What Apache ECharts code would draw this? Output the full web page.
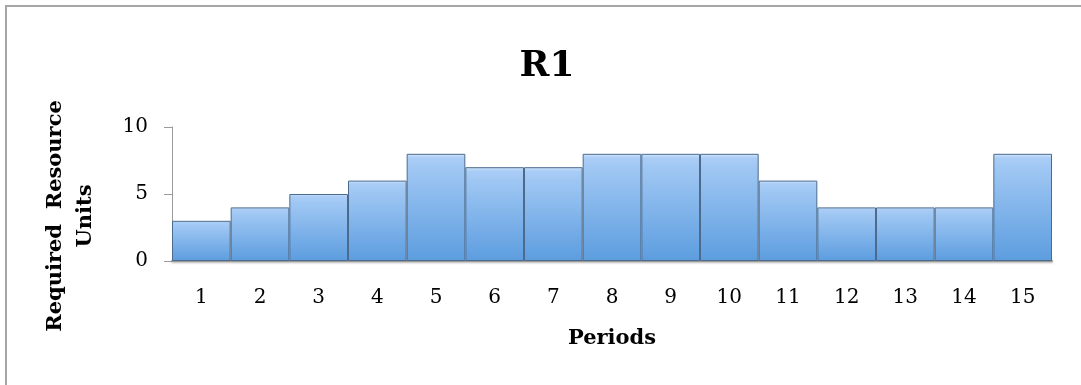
<!DOCTYPE html>
<html><head><meta charset="utf-8">
<script src="https://cdn.jsdelivr.net/npm/echarts@6/dist/echarts.min.js"></script>
<style>html,body{margin:0;padding:0;background:#fff}#c{width:1081px;height:385px}</style>
</head><body><div id="c"></div>
<script>
const categories = ['1','2','3','4','5','6','7','8','9','10','11','12','13','14','15'];
const values = [3,4,5,6,8,7,7,8,8,8,6,4,4,4,8];
const titleText = 'R1';
const xName = 'Periods';
const yName = 'Required  Resource\nUnits';

const chart = echarts.init(document.getElementById('c'), null, {renderer:'canvas'});
const serif = 'DejaVu Serif';
chart.setOption({
  animation:false,
  backgroundColor:'#fff',
  graphic:[{type:'rect', shape:{x:6,y:6,width:1100,height:400}, style:{fill:'none', stroke:'#a6a6a6', lineWidth:2}, silent:true}],
  title:{text:titleText, left:542, top:44, textAlign:'center',
    textStyle:{fontFamily:serif, fontWeight:'bold', fontSize:36, color:'#000'}},
  grid:{left:172, right:29, top:127, bottom:124},
  xAxis:{type:'category', data:categories, name:xName, nameLocation:'middle', nameGap:67,
    nameTextStyle:{fontFamily:serif, fontWeight:'bold', fontSize:21, color:'#000'},
    axisLine:{lineStyle:{color:'#9a9a9a', width:2, shadowColor:'rgba(0,0,0,0.3)', shadowOffsetY:1, shadowBlur:2}},
    axisTick:{show:false},
    axisLabel:{margin:27, fontFamily:serif, fontSize:20, color:'#000'}},
  yAxis:{type:'value', min:0, max:10, interval:5, name:yName, nameLocation:'middle', nameGap:71,
    nameTextStyle:{fontFamily:serif, fontWeight:'bold', fontSize:21, color:'#000', lineHeight:30, align:'center', padding:[0,44,0,0]},
    axisLine:{show:true, lineStyle:{color:'#9a9a9a', width:1}},
    axisTick:{show:true, length:8, lineStyle:{color:'#9a9a9a'}},
    splitLine:{show:false},
    axisLabel:{margin:24, fontFamily:serif, fontSize:20, color:'#000'}},
  series:[{type:'bar', data:values, barCategoryGap:'0%',
    itemStyle:{borderColor:'#4b6a8c', borderWidth:1,
      color:new echarts.graphic.LinearGradient(0,0,0,1,[
        {offset:0, color:'#d2e5fb'},{offset:0.04, color:'#a9cdf6'},{offset:0.15, color:'#9ec6f3'},
        {offset:1, color:'#5c9ddf'}])}}]
});
</script></body></html>
